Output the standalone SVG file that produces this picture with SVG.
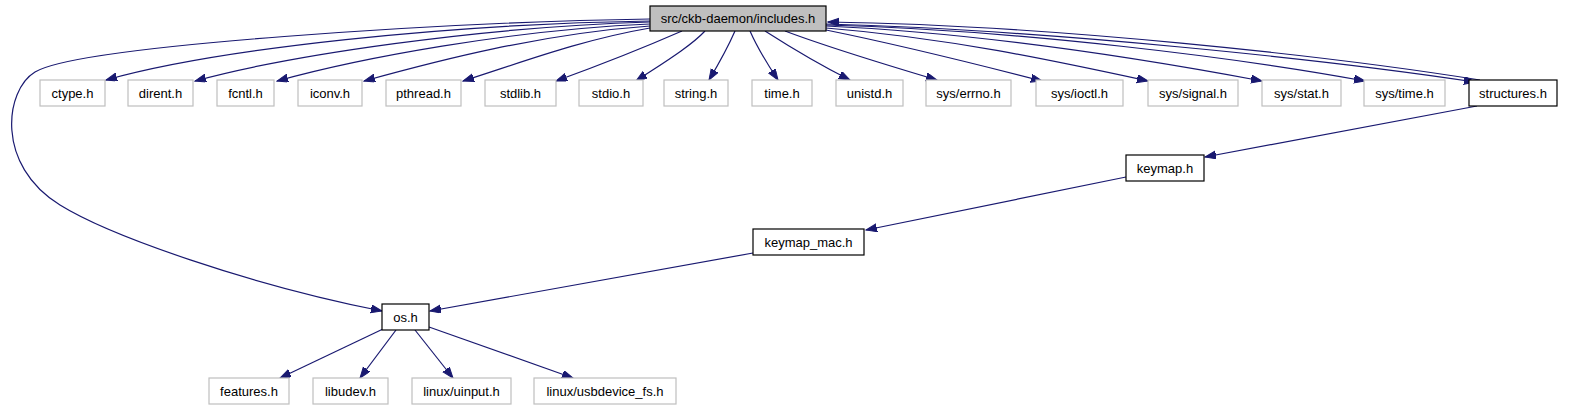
<svg xmlns="http://www.w3.org/2000/svg" width="1573" height="411" viewBox="0 0 1573 411">
<style>
text{font-family:"Liberation Sans",Arial,Helvetica,sans-serif;font-size:13px;text-anchor:middle;fill:#000}
.g rect{fill:#fff;stroke:#bfbfbf;stroke-width:1.2}
.b rect{fill:#fff;stroke:#000;stroke-width:1.2}
.r rect{fill:#bfbfbf;stroke:#000;stroke-width:1.2}
#edges path{fill:none;stroke:#191970;stroke-width:1.2;marker-end:url(#a)}
</style>
<defs>
<marker id="a" markerWidth="12" markerHeight="9" refX="11" refY="4" orient="auto" markerUnits="userSpaceOnUse">
<path d="M0,0 L11,4 L0,8 z" fill="#191970" stroke="#191970" stroke-width="1"/>
</marker>
</defs>
<rect width="1573" height="411" fill="#fff"/>
<g id="edges">
<path d="M650,19 C450,22 80,45 35,72 C5,90 -5,165 60,205 C110,236 250,285 382,311"/>
<path d="M650,21 C450,24 220,48 106,80"/>
<path d="M650,22 C480,27 290,55 195,81"/>
<path d="M650,24 C510,30 360,58 277,81"/>
<path d="M650,26 C540,34 440,60 364,81"/>
<path d="M650,28 C580,40 520,63 463,81"/>
<path d="M682,31 C650,45 600,65 556,81"/>
<path d="M705,31 C690,47 660,65 636,81"/>
<path d="M735,31 C728,47 718,65 709,80"/>
<path d="M750,31 C757,47 768,65 778,80"/>
<path d="M765,31 C790,47 820,65 850,80"/>
<path d="M785,31 C830,48 890,66 937,80"/>
<path d="M826,30 C900,45 980,65 1042,81"/>
<path d="M826,28 C950,38 1060,62 1148,81"/>
<path d="M826,26 C980,33 1150,60 1262,81"/>
<path d="M826,25 C1020,30 1240,58 1365,81"/>
<path d="M826,24 C1050,30 1330,60 1475,82"/>
<path d="M1480,80 C1330,56 1050,25 828,22"/>
<path d="M1477,106 L1205,157"/>
<path d="M1126,177 L866,230"/>
<path d="M753,253 L430,311"/>
<path d="M383,329 L280,378"/>
<path d="M396,330 L360,378"/>
<path d="M415,330 L453,378"/>
<path d="M429,327 L573,378"/>
</g>
<g id="n-includes" class="r"><rect x="650" y="6" width="176" height="25"/><text x="738" y="23">src/ckb-daemon/includes.h</text></g>
<g id="n-ctype" class="g"><rect x="40" y="80" width="65" height="26"/><text x="72.5" y="97.5">ctype.h</text></g>
<g id="n-dirent" class="g"><rect x="128" y="80" width="65" height="26"/><text x="160.5" y="97.5">dirent.h</text></g>
<g id="n-fcntl" class="g"><rect x="217" y="80" width="57" height="26"/><text x="245.5" y="97.5">fcntl.h</text></g>
<g id="n-iconv" class="g"><rect x="298" y="80" width="64" height="26"/><text x="330" y="97.5">iconv.h</text></g>
<g id="n-pthread" class="g"><rect x="386" y="80" width="75" height="26"/><text x="423.5" y="97.5">pthread.h</text></g>
<g id="n-stdlib" class="g"><rect x="485" y="80" width="71" height="26"/><text x="520.5" y="97.5">stdlib.h</text></g>
<g id="n-stdio" class="g"><rect x="579" y="80" width="64" height="26"/><text x="611" y="97.5">stdio.h</text></g>
<g id="n-string" class="g"><rect x="664" y="80" width="64" height="26"/><text x="696" y="97.5">string.h</text></g>
<g id="n-time" class="g"><rect x="752" y="80" width="60" height="26"/><text x="782" y="97.5">time.h</text></g>
<g id="n-unistd" class="g"><rect x="836" y="80" width="67" height="26"/><text x="869.5" y="97.5">unistd.h</text></g>
<g id="n-errno" class="g"><rect x="926" y="80" width="85" height="26"/><text x="968.5" y="97.5">sys/errno.h</text></g>
<g id="n-ioctl" class="g"><rect x="1036" y="80" width="87" height="26"/><text x="1079.5" y="97.5">sys/ioctl.h</text></g>
<g id="n-signal" class="g"><rect x="1148" y="80" width="90" height="26"/><text x="1193" y="97.5">sys/signal.h</text></g>
<g id="n-stat" class="g"><rect x="1262" y="80" width="79" height="26"/><text x="1301.5" y="97.5">sys/stat.h</text></g>
<g id="n-systime" class="g"><rect x="1364" y="80" width="81" height="26"/><text x="1404.5" y="97.5">sys/time.h</text></g>
<g id="n-structures" class="b"><rect x="1469" y="80" width="88" height="26"/><text x="1513" y="97.5">structures.h</text></g>
<g id="n-keymap" class="b"><rect x="1126" y="155" width="78" height="26"/><text x="1165" y="172.5">keymap.h</text></g>
<g id="n-keymap_mac" class="b"><rect x="753" y="229" width="111" height="26"/><text x="808.5" y="246.5">keymap_mac.h</text></g>
<g id="n-os" class="b"><rect x="382" y="304" width="47" height="26"/><text x="405.5" y="321.5">os.h</text></g>
<g id="n-features" class="g"><rect x="209" y="378" width="80" height="26"/><text x="249" y="395.5">features.h</text></g>
<g id="n-libudev" class="g"><rect x="313" y="378" width="75" height="26"/><text x="350.5" y="395.5">libudev.h</text></g>
<g id="n-uinput" class="g"><rect x="412" y="378" width="99" height="26"/><text x="461.5" y="395.5">linux/uinput.h</text></g>
<g id="n-usbdevice" class="g"><rect x="534" y="378" width="142" height="26"/><text x="605" y="395.5">linux/usbdevice_fs.h</text></g>
</svg>
